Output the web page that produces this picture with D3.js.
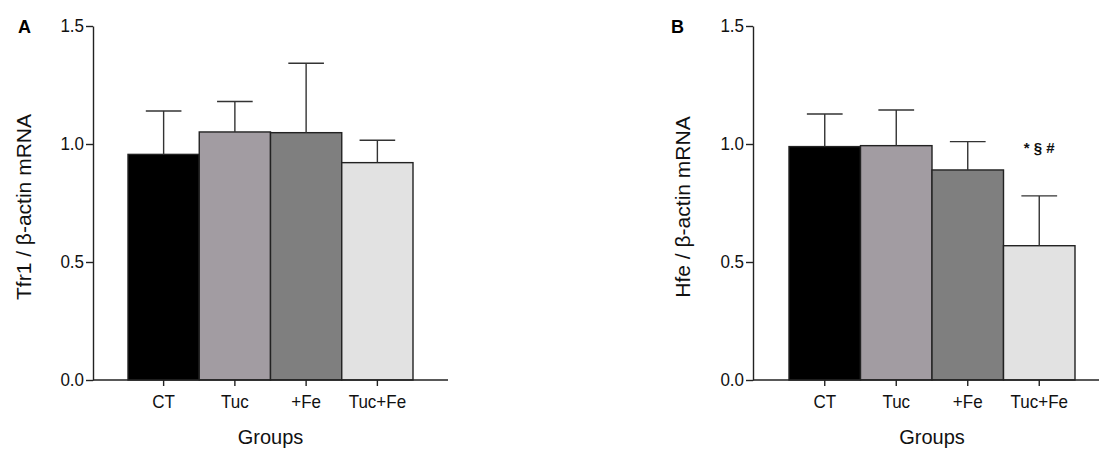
<!DOCTYPE html>
<html>
<head>
<meta charset="utf-8">
<script src="https://cdn.jsdelivr.net/npm/d3@7"></script>
<style>
  body { margin: 0; background: #fff; }
  svg { display: block; font-family: "Liberation Sans", Arial, sans-serif; }
</style>
</head>
<body>
<div id="chart"></div>
<script>
'use strict';

// Groups and values
const groups = ["CT", "Tuc", "+Fe", "Tuc+Fe"];
const groupColors = ["#000000", "#a29ca2", "#7f7f7f", "#e2e2e2"];
const yTicks = [0, 0.5, 1.0, 1.5];

// Panel A: Tfr1 / beta-actin mRNA (mean, upper error)
const tfr1Mean = [0.956, 1.051, 1.048, 0.921];
const tfr1Err = [0.184, 0.129, 0.294, 0.095];

// Panel B: Hfe / beta-actin mRNA
const hfeMean = [0.989, 0.993, 0.890, 0.569];
const hfeErr = [0.138, 0.151, 0.120, 0.211];
const hfeMarks = ["", "", "", "* § #"];

(function() {
    const width = 1099, height = 450;

    const svg = d3.select("#chart")
        .append("svg")
            .attr("width", width)
            .attr("height", height);

    const y = d3.scaleLinear()
        .domain([0, 1.5])
        .range([380, 26]);

    drawPanel({ letter: "A", letterX: 18, axisX: 93, bandStart: 128, bandEnd: 413,
        title: "Tfr1 / β-actin mRNA", titleX: 24,
        means: tfr1Mean, errs: tfr1Err, marks: null });

    drawPanel({ letter: "B", letterX: 671, axisX: 753, bandStart: 789, bandEnd: 1075,
        title: "Hfe / β-actin mRNA", titleX: 683,
        means: hfeMean, errs: hfeErr, marks: hfeMarks });

    function drawPanel(p) {
        const g = svg.append("g");

        const x = d3.scaleBand()
            .domain(groups)
            .range([p.bandStart, p.bandEnd])
            .padding(0);

        // Y axis
        const yAxis = d3.axisLeft(y)
            .tickValues(yTicks)
            .tickFormat(d3.format(".1f"))
            .tickSize(7)
            .tickPadding(2)
            .tickSizeOuter(0);
        const ya = g.append("g")
            .attr("transform", "translate(" + p.axisX + ",0)")
            .call(yAxis);
        ya.selectAll("text")
            .attr("font-size", "17px")
            .attr("fill", "#111")
            .attr("transform", "scale(1,1.1)");
        ya.selectAll("line, path").attr("stroke", "#222").attr("stroke-width", 1.4);

        // Bars
        g.selectAll("rect.bar")
            .data(groups)
            .enter()
            .append("rect")
                .attr("class", "bar")
                .attr("x", function(d) { return x(d); })
                .attr("y", function(d, i) { return y(p.means[i]); })
                .attr("width", x.bandwidth())
                .attr("height", function(d, i) { return y(0) - y(p.means[i]); })
                .attr("fill", function(d, i) { return groupColors[i]; })
                .attr("stroke", "#222")
                .attr("stroke-width", 1.4);

        // Error bars (upper only)
        const capHalf = x.bandwidth() / 4;
        const eb = g.selectAll("g.err")
            .data(groups)
            .enter()
            .append("g")
                .attr("class", "err")
                .attr("stroke", "#333")
                .attr("stroke-width", 1.4);
        eb.append("line")
            .attr("x1", function(d) { return x(d) + x.bandwidth() / 2; })
            .attr("x2", function(d) { return x(d) + x.bandwidth() / 2; })
            .attr("y1", function(d, i) { return y(p.means[i]); })
            .attr("y2", function(d, i) { return y(p.means[i] + p.errs[i]); });
        eb.append("line")
            .attr("x1", function(d) { return x(d) + x.bandwidth() / 2 - capHalf; })
            .attr("x2", function(d) { return x(d) + x.bandwidth() / 2 + capHalf; })
            .attr("y1", function(d, i) { return y(p.means[i] + p.errs[i]); })
            .attr("y2", function(d, i) { return y(p.means[i] + p.errs[i]); });

        // X axis
        const xAxis = d3.axisBottom(x)
            .tickSize(6)
            .tickPadding(7)
            .tickSizeOuter(0);
        const xa = g.append("g")
            .attr("transform", "translate(0," + y(0) + ")")
            .call(xAxis);
        xa.select(".domain").remove();
        xa.append("line")
            .attr("x1", p.axisX)
            .attr("x2", p.bandEnd + (p.bandStart - p.axisX))
            .attr("stroke", "#222")
            .attr("stroke-width", 1.4);
        xa.selectAll("text")
            .attr("font-size", "17px")
            .attr("fill", "#111")
            .attr("transform", "scale(1,1.1)");
        xa.selectAll(".tick line").attr("stroke", "#222").attr("stroke-width", 1.4);

        // Significance marks
        if (p.marks) {
            g.selectAll("text.mark")
                .data(groups)
                .enter()
                .append("text")
                    .attr("class", "mark")
                    .attr("x", function(d) { return x(d) + x.bandwidth() / 2; })
                    .attr("y", 153)
                    .attr("text-anchor", "middle")
                    .attr("font-size", "15px")
                    .attr("font-weight", "bold")
                    .attr("fill", "#111")
                    .text(function(d, i) { return p.marks[i]; });
        }

        // Axis titles
        g.append("text")
            .attr("x", (p.bandStart + p.bandEnd) / 2)
            .attr("y", 444)
            .attr("text-anchor", "middle")
            .attr("font-size", "20px")
            .attr("fill", "#111")
            .text("Groups");

        g.append("text")
            .attr("transform", "translate(" + p.titleX + ",207) rotate(-90)")
            .attr("text-anchor", "middle")
            .attr("dy", "0.35em")
            .attr("font-size", "21px")
            .attr("fill", "#111")
            .text(p.title);

        // Panel letter
        g.append("text")
            .attr("x", p.letterX)
            .attr("y", 33)
            .attr("font-size", "18px")
            .attr("font-weight", "bold")
            .attr("fill", "#000")
            .text(p.letter);
    }
})();
</script>
</body>
</html>
